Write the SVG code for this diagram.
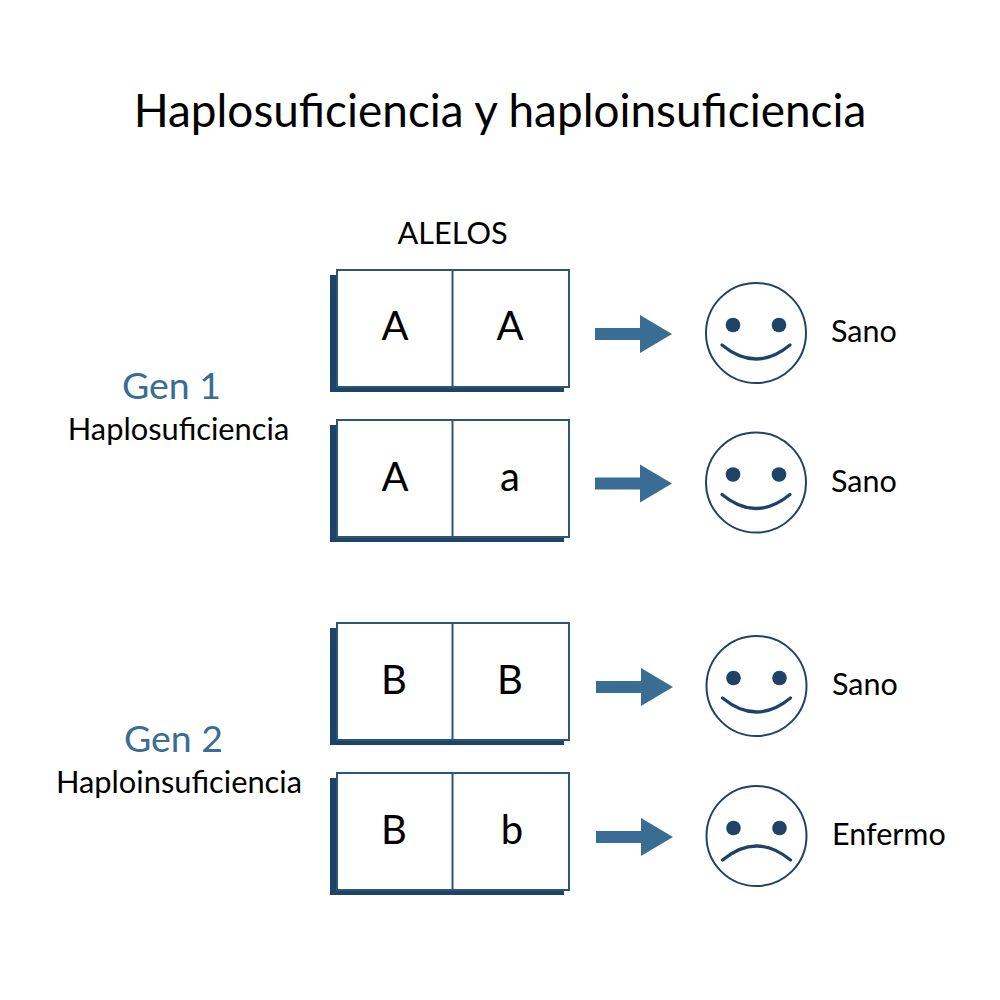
<svg xmlns="http://www.w3.org/2000/svg" width="1000" height="1000" viewBox="0 0 1000 1000">
<style>
text{font-family:Lato,"Liberation Sans",sans-serif;fill:#000}
.t{font-size:45.900px}.l{font-size:40px;text-anchor:middle}.s{font-size:30.500px}.a{font-size:30.700px;text-anchor:middle}
.g{font-size:37.400px;fill:#396d93;text-anchor:middle}.n{font-size:30.800px;text-anchor:middle}
.sh{fill:#1f4368}.b{fill:#fff;stroke:#2c5578;stroke-width:2}
.ar{fill:#396d93}.fc{fill:#fff;stroke:#1f4368;stroke-width:2}.e{fill:#1f4368}.m{fill:none;stroke:#1f4368;stroke-width:3.200;stroke-linecap:round}
</style>
<defs>
<g id="box"><rect class="sh" x="330" y="275" width="234" height="117"/><rect class="b" x="337" y="270" width="232" height="117"/><line class="b" x1="452.500" y1="270" x2="452.500" y2="387"/></g>
<polygon id="arrow" class="ar" points="595,328 640,328 640,315 672,334 640,353 640,340 595,340"/>
<g id="face"><circle class="fc" cx="756" cy="333" r="50"/><circle class="e" cx="733" cy="325" r="7.300"/><circle class="e" cx="779" cy="325" r="7.300"/></g>
<path id="smile" class="m" d="M722,345 Q756,373 790,345"/>
</defs>
<text class="t" x="500" y="127" text-anchor="middle">Haplosuficiencia y haploinsuficiencia</text>
<text class="a" x="452.500" y="244">ALELOS</text>
<g id="connectors">
<use href="#arrow"/><use href="#arrow" y="149.500"/><use href="#arrow" x="1" y="353"/><use href="#arrow" x="1" y="503"/>
</g>
<g id="gen1"><text class="g" x="171.500" y="398.500">Gen 1</text><text class="n" x="178.500" y="440">Haplosuficiencia</text></g>
<g id="gen2"><text class="g" x="173.500" y="751.500">Gen 2</text><text class="n" x="179" y="793">Haploinsuficiencia</text></g>
<g id="row1"><use href="#box"/><text class="l" x="395" y="340">A</text><text class="l" x="510" y="340">A</text></g>
<g id="row2"><use href="#box" y="150"/><text class="l" x="395" y="491">A</text><text class="l" x="510" y="491">a</text></g>
<g id="row3"><use href="#box" y="353"/><text class="l" x="394" y="694">B</text><text class="l" x="510" y="694">B</text></g>
<g id="row4"><use href="#box" y="503"/><text class="l" x="394" y="844">B</text><text class="l" x="512" y="844">b</text></g>
<g id="face1"><use href="#face"/><use href="#smile"/><text class="s" x="831" y="342">Sano</text></g>
<g id="face2"><use href="#face" y="149.500"/><use href="#smile" y="149.500"/><text class="s" x="831" y="492">Sano</text></g>
<g id="face3"><use href="#face" x="0.500" y="353"/><use href="#smile" x="0.500" y="353"/><text class="s" x="832" y="695">Sano</text></g>
<g id="face4"><use href="#face" x="0.500" y="503"/><path class="m" d="M722.500,860 Q756.500,832 790.500,860"/><text class="s" x="832" y="845">Enfermo</text></g>
</svg>
